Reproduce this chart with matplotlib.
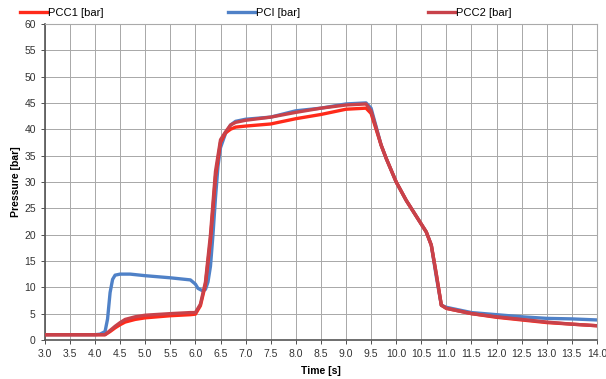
import matplotlib
matplotlib.use('Agg')
import matplotlib.pyplot as plt

# time axis [s] and pressures [bar]
t_pcc1 = [3.0, 4.0, 4.2, 4.3, 4.4, 4.5, 4.6, 4.8, 5.0, 5.5, 5.9, 6.0, 6.1, 6.2, 6.3, 6.4, 6.5, 6.6, 6.7, 6.8,
          7.0, 7.5, 8.0, 8.5, 9.0, 9.4, 9.5, 9.6, 9.7, 9.8, 10.0, 10.2, 10.5, 10.6, 10.7, 10.8, 10.9,
          11.0, 11.5, 12.0, 12.5, 13.0, 13.5, 14.0]
p_pcc1 = [1.0, 1.0, 1.0, 1.6, 2.3, 2.9, 3.4, 3.9, 4.2, 4.6, 4.8, 4.9, 6.5, 10.5, 19.0, 31.0, 37.5, 39.3, 40.0, 40.4,
          40.6, 41.0, 42.0, 42.8, 43.8, 44.0, 43.0, 40.0, 37.0, 34.5, 30.0, 26.5, 22.0, 20.5, 18.0, 12.5, 6.6,
          6.0, 5.0, 4.3, 3.8, 3.3, 3.0, 2.7]

t_pci = [3.0, 4.0, 4.1, 4.2, 4.25, 4.3, 4.35, 4.4, 4.5, 4.7, 5.0, 5.5, 5.9, 6.0, 6.05, 6.15, 6.2, 6.25, 6.3,
         6.35, 6.4, 6.45, 6.5, 6.6, 6.7, 6.8, 7.0, 7.5, 8.0, 8.5, 9.0, 9.4, 9.5, 9.6, 9.7, 9.8, 10.0, 10.2,
         10.5, 10.6, 10.7, 10.8, 10.9, 11.0, 11.5, 12.0, 12.5, 13.0, 13.5, 14.0]
p_pci = [1.0, 1.0, 1.1, 1.6, 4.0, 9.0, 11.5, 12.3, 12.5, 12.5, 12.2, 11.8, 11.4, 10.6, 9.8, 9.3, 9.6, 11.0, 14.0,
         20.0, 27.0, 33.0, 36.5, 39.2, 40.8, 41.5, 41.9, 42.3, 43.5, 44.0, 44.8, 45.0, 44.0, 40.5, 37.0, 34.5, 30.0, 26.5,
         22.0, 20.5, 18.0, 12.0, 6.6, 6.2, 5.2, 4.8, 4.4, 4.1, 4.0, 3.8]

t_pcc2 = [3.0, 4.0, 4.2, 4.3, 4.4, 4.5, 4.6, 4.8, 5.0, 5.5, 5.9, 6.0, 6.1, 6.2, 6.3, 6.4, 6.5, 6.6, 6.7, 6.8,
          7.0, 7.5, 8.0, 8.5, 9.0, 9.4, 9.5, 9.6, 9.7, 9.8, 10.0, 10.2, 10.5, 10.6, 10.7, 10.8, 10.9,
          11.0, 11.5, 12.0, 12.5, 13.0, 13.5, 14.0]
p_pcc2 = [1.0, 1.0, 1.0, 1.8, 2.6, 3.3, 3.9, 4.4, 4.7, 5.0, 5.2, 5.2, 6.8, 11.0, 20.0, 32.0, 38.0, 39.5, 40.8, 41.3,
          41.7, 42.3, 43.2, 44.0, 44.6, 44.8, 43.5, 40.3, 37.0, 34.5, 30.0, 26.5, 22.0, 20.5, 18.0, 12.5, 6.6,
          6.0, 5.0, 4.4, 3.9, 3.4, 3.0, 2.7]

plt.rcParams['font.family'] = ['Liberation Sans Narrow', 'Liberation Sans', 'DejaVu Sans']

fig = plt.figure(figsize=(6.06, 3.79), dpi=100)
ax = fig.add_axes([0.074, 0.103, 0.911, 0.834])

l1, = ax.plot(t_pcc1, p_pcc1, color='#ff2a1a', lw=2.4, label='PCC1 [bar]', zorder=3)
l2, = ax.plot(t_pci, p_pci, color='#4f81c7', lw=2.4, label='PCI [bar]', zorder=2)
l3, = ax.plot(t_pcc2, p_pcc2, color='#c8424a', lw=2.4, label='PCC2 [bar]', zorder=4)

ax.set_xlim(3.0, 14.0)
ax.set_ylim(0, 60)
ax.set_xticks([3.0 + 0.5 * i for i in range(23)])
ax.set_xticklabels(['%.1f' % (3.0 + 0.5 * i) for i in range(23)])
ax.set_yticks(range(0, 61, 5))
ax.tick_params(labelsize=7.5, colors='#333333', length=3, width=0.6)
ax.grid(True, color='#a8a8a8', lw=0.7)
ax.set_axisbelow(True)
for s in ['top', 'right']:
    ax.spines[s].set_color('#aaaaaa')
for s in ['left', 'bottom']:
    ax.spines[s].set_color('#555555')
    ax.spines[s].set_linewidth(1.2)

ax.set_xlabel('Time [s]', fontsize=7.5, fontweight='bold', labelpad=5)
ax.set_ylabel('Pressure [bar]', fontsize=7.5, fontweight='bold', labelpad=2)

# three separate legend entries spread across the top
for handle, x0 in [(l1, 20), (l2, 228), (l3, 428)]:
    fig.legend(handles=[handle], loc='center left', bbox_to_anchor=(x0 / 606, 1 - 13 / 379),
               frameon=False, fontsize=8, handlelength=2.4, handletextpad=0.1,
               borderaxespad=0, borderpad=0)

fig.savefig('out.png', dpi=100)
